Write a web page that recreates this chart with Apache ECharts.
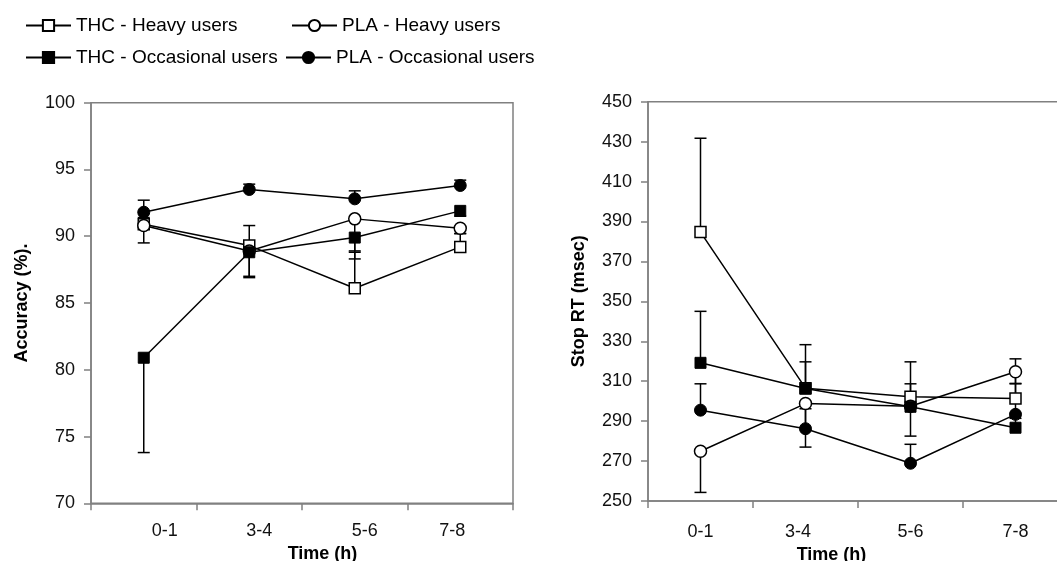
<!DOCTYPE html>
<html>
<head>
<meta charset="utf-8">
<script src="https://cdn.jsdelivr.net/npm/echarts@6/dist/echarts.min.js"></script>
<style>
  html, body { margin: 0; padding: 0; background: #fff; }
  #main { width: 1057px; height: 561px; }
</style>
</head>
<body>
<div id="main"></div>
<script>
// time windows after smoking
var categories = ['0-1', '3-4', '5-6', '7-8'];

// Accuracy (%)
var thcHeavyAcc = [90.9, 89.3, 86.1, 89.2];
var plaHeavyAcc = [90.8, 88.9, 91.3, 90.6];
var thcOccAcc = [80.9, 88.8, 89.9, 91.9];
var plaOccAcc = [91.8, 93.5, 92.8, 93.8];
// error bars, sign gives direction (+ up, - down)
var thcHeavyAccErr = [0.5, 1.5, 2.7, 1.0];
var plaHeavyAccErr = [-1.3, -2.0, -2.4, -0.4];
var thcOccAccErr = [-7.1, -1.8, -1.6, -0.4];
var plaOccAccErr = [0.9, 0.4, 0.6, 0.4];

// Stop RT (msec)
var thcHeavyRT = [384.7, 306.5, 302.2, 301.4];
var plaHeavyRT = [274.9, 298.8, 297.5, 314.7];
var thcOccRT = [319.2, 306.3, 297.2, 286.7];
var plaOccRT = [295.5, 286.2, 268.9, 293.4];
var thcHeavyRTErr = [47, 21.8, 17.5, 19.8];
var plaHeavyRTErr = [-20.6, -21.8, -15.0, -6.0];
var thcOccRTErr = [25.8, 13.4, 11.5, 4.7];
var plaOccRTErr = [13.2, 10.0, 9.5, 15.5];

var accTicks = [70, 100, 5];
var rtTicks = [250, 450, 20];

var FONT = 'Liberation Sans, Arial, sans-serif';
var names = ['THC - Heavy users', 'PLA - Heavy users', 'THC - Occasional users', 'PLA - Occasional users'];

var myChart = echarts.init(document.getElementById('main'));

var hollow = {color: '#fff', borderColor: '#000', borderWidth: 1.5};
var filled = {color: '#000', borderColor: '#000', borderWidth: 1};

function lineSeries(name, data, idx, symbol, style) {
    return {
        name: name,
        type: 'line',
        xAxisIndex: idx,
        yAxisIndex: idx,
        data: data,
        symbol: symbol,
        symbolSize: symbol === 'rect' ? 11 : 12,
        showAllSymbol: true,
        lineStyle: {color: '#000', width: 1.5},
        itemStyle: style,
        emphasis: {disabled: true},
        z: 3
    };
}

function errSeries(name, vals, errs, idx) {
    var d = [];
    for (var i = 0; i < vals.length; i++) {
        d.push([i, vals[i], errs[i]]);
    }
    return {
        name: name + ' err',
        type: 'custom',
        xAxisIndex: idx,
        yAxisIndex: idx,
        data: d,
        encode: {x: 0, y: 1},
        z: 2,
        silent: true,
        renderItem: function (params, api) {
            var x = api.value(0), v = api.value(1), e = api.value(2);
            var p0 = api.coord([x, v]);
            var p1 = api.coord([x, v + e]);
            var st = {stroke: '#000', lineWidth: 1.5};
            return {
                type: 'group',
                children: [
                    {type: 'line', shape: {x1: p0[0], y1: p0[1], x2: p1[0], y2: p1[1]}, style: st},
                    {type: 'line', shape: {x1: p1[0] - 6, y1: p1[1], x2: p1[0] + 6, y2: p1[1]}, style: st}
                ]
            };
        }
    };
}

function legendAt(name, left, top) {
    return {
        data: [name],
        left: left,
        top: top,
        itemWidth: 45,
        itemHeight: 14,
        selectedMode: false,
        textStyle: {fontFamily: FONT, fontSize: 19, color: '#000'}
    };
}

// axis labels sit a little off their bands in the original
function shiftedCats(pads) {
    return categories.map(function (c, i) {
        return {value: c, textStyle: {padding: pads[i]}};
    });
}
var leftCats = shiftedCats([[0, 0, 0, 42], [0, 0, 0, 20], [0, 0, 0, 20], [0, 16, 0, 0]]);
var rightCats = shiftedCats([[0, 0, 0, 0], [0, 15, 0, 0], [0, 0, 0, 0], [0, 0, 0, 0]]);

function xAxisOpt(idx, data, margin, nameGap, namePad) {
    return {
        type: 'category',
        gridIndex: idx,
        data: data,
        boundaryGap: true,
        axisLine: {lineStyle: {color: '#808080', width: 1.5}},
        axisTick: {show: true, length: 7, lineStyle: {color: '#808080', width: 1.5}},
        axisLabel: {fontFamily: FONT, fontSize: 18, color: '#111', margin: margin},
        splitLine: {show: false},
        name: 'Time (h)',
        nameLocation: 'middle',
        nameGap: nameGap,
        nameTextStyle: {fontFamily: FONT, fontSize: 18, fontWeight: 'bold', color: '#000', padding: namePad}
    };
}

function yAxisOpt(idx, ticks, name) {
    return {
        type: 'value',
        gridIndex: idx,
        min: ticks[0],
        max: ticks[1],
        interval: ticks[2],
        axisLine: {show: true, lineStyle: {color: '#808080', width: 1.5}},
        axisTick: {show: true, length: 7, lineStyle: {color: '#808080', width: 1.5}},
        axisLabel: {fontFamily: FONT, fontSize: 18, color: '#111', margin: 16},
        splitLine: {show: false},
        name: name,
        nameLocation: 'middle',
        nameGap: 60,
        nameTextStyle: {fontFamily: FONT, fontSize: 18, fontWeight: 'bold', color: '#000'}
    };
}

var option = {
    animation: false,
    backgroundColor: '#fff',
    legend: [
        legendAt(names[0], 20, 11),
        legendAt(names[1], 286, 11),
        legendAt(names[2], 20, 43),
        legendAt(names[3], 280, 43)
    ],
    grid: [
        {left: 91, top: 102.7, width: 422, height: 400.6, outerBoundsMode: 'none', containLabel: false,
            show: true, borderColor: '#808080', borderWidth: 1.5, backgroundColor: 'transparent'},
        {left: 648, top: 101.7, width: 420, height: 399.3, outerBoundsMode: 'none', containLabel: false,
            show: true, borderColor: '#808080', borderWidth: 1.5, backgroundColor: 'transparent'}
    ],
    xAxis: [
        xAxisOpt(0, leftCats, 19, 37, [0, 0, 0, 41]),
        xAxisOpt(1, rightCats, 22, 41, [0, 53, 0, 0])
    ],
    yAxis: [
        yAxisOpt(0, accTicks, 'Accuracy (%).'),
        yAxisOpt(1, rtTicks, 'Stop RT (msec)')
    ],
    series: [
        errSeries(names[0], thcHeavyAcc, thcHeavyAccErr, 0),
        errSeries(names[1], plaHeavyAcc, plaHeavyAccErr, 0),
        errSeries(names[2], thcOccAcc, thcOccAccErr, 0),
        errSeries(names[3], plaOccAcc, plaOccAccErr, 0),
        errSeries(names[0], thcHeavyRT, thcHeavyRTErr, 1),
        errSeries(names[1], plaHeavyRT, plaHeavyRTErr, 1),
        errSeries(names[2], thcOccRT, thcOccRTErr, 1),
        errSeries(names[3], plaOccRT, plaOccRTErr, 1),
        lineSeries(names[0], thcHeavyAcc, 0, 'rect', hollow),
        lineSeries(names[1], plaHeavyAcc, 0, 'circle', hollow),
        lineSeries(names[2], thcOccAcc, 0, 'rect', filled),
        lineSeries(names[3], plaOccAcc, 0, 'circle', filled),
        lineSeries(names[0], thcHeavyRT, 1, 'rect', hollow),
        lineSeries(names[1], plaHeavyRT, 1, 'circle', hollow),
        lineSeries(names[2], thcOccRT, 1, 'rect', filled),
        lineSeries(names[3], plaOccRT, 1, 'circle', filled)
    ]
};

myChart.setOption(option);
</script>
</body>
</html>
